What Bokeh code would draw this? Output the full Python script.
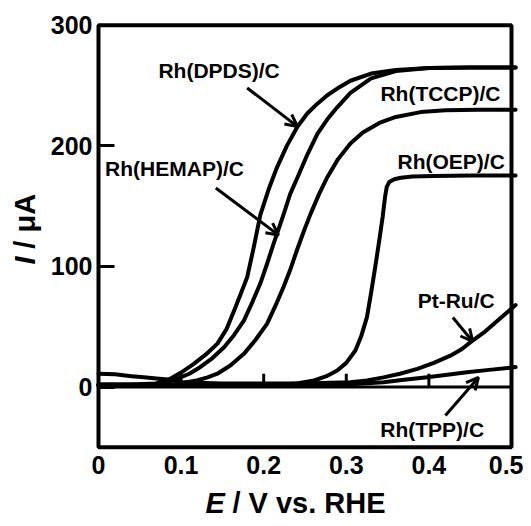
import math
from bokeh.plotting import figure
from bokeh.models import (FixedTicker, Label, Arrow, OpenHead, BoxAnnotation, LinearAxis)
from bokeh.embed import file_html
from bokeh.resources import INLINE

# ---------------- data ----------------
X_TICKS = [0, 0.1, 0.2, 0.3, 0.4, 0.5]
X_TICK_LABELS = ["0", "0.1", "0.2", "0.3", "0.4", "0.5"]
Y_TICKS = [0, 100, 200, 300]
Y_TICK_LABELS = ["0", "100", "200", "300"]
X_LIMITS = (0, 0.5)
Y_LIMITS = (-50, 300)

dpds_E = [0, 0.04, 0.07, 0.087, 0.10, 0.115, 0.13, 0.144, 0.155, 0.164, 0.172, 0.180,
          0.188, 0.196, 0.206, 0.216, 0.228, 0.241, 0.253, 0.265, 0.277, 0.289, 0.305,
          0.33, 0.36, 0.40, 0.45, 0.505]
dpds_I = [2, 2, 3, 6.8, 12, 19, 27, 36, 48, 63, 77, 91, 116, 143, 164, 182, 200, 216,
          227, 235, 242, 247.5, 254, 260, 263, 264.5, 265, 265]

hemap_E = [0, 0.05, 0.08, 0.095, 0.11, 0.123, 0.138, 0.152, 0.164, 0.176, 0.186, 0.196,
           0.204, 0.212, 0.224, 0.232, 0.241, 0.253, 0.265, 0.277, 0.289, 0.305, 0.33,
           0.36, 0.40, 0.45, 0.505]
hemap_I = [2, 2, 3, 6.8, 11, 16.4, 24, 33, 43, 55, 70, 86, 102, 119, 143, 160, 174, 193,
           210, 222, 232, 244, 256, 262, 264.5, 265, 265]

tccp_E = [0, 0.05, 0.09, 0.119, 0.132, 0.144, 0.16, 0.176, 0.19, 0.204, 0.214, 0.224,
          0.232, 0.240, 0.249, 0.257, 0.267, 0.277, 0.29, 0.305, 0.32, 0.34, 0.36, 0.39,
          0.42, 0.46, 0.505]
tccp_I = [1.5, 1.5, 2, 5.4, 8, 11, 18, 27.5, 39, 52.4, 67, 83, 97, 113, 130, 144, 160,
          174, 189, 202, 211, 219, 224, 228, 229.5, 230, 230]

oep_E = [0, 0.1, 0.2, 0.22, 0.24, 0.261, 0.276, 0.289, 0.30, 0.311, 0.318, 0.325, 0.330,
         0.335, 0.340, 0.344, 0.347, 0.349, 0.352, 0.358, 0.366, 0.38, 0.406, 0.45, 0.505]
oep_I = [1.5, 1.5, 1.5, 2, 3, 5.4, 9, 13.7, 20, 30.3, 42, 58, 78, 99.4, 122, 141, 158,
         166, 170, 172.3, 173.5, 174.5, 175, 175.5, 175.5]

ptru_E = [0, 0.02, 0.04, 0.055, 0.07, 0.087, 0.1, 0.15, 0.2, 0.25, 0.28, 0.305, 0.325,
          0.345, 0.365, 0.386, 0.406, 0.426, 0.44, 0.452, 0.468, 0.483, 0.505]
ptru_I = [11, 10.5, 9, 8, 7, 6, 4, 3, 3, 3, 3.5, 4, 5.5, 8, 11, 15, 20, 26, 31.5, 38, 46,
          55, 68]

tpp_E = [0, 0.1, 0.2, 0.28, 0.30, 0.345, 0.37, 0.398, 0.42, 0.446, 0.47, 0.505]
tpp_I = [1, 1, 1, 1.5, 2, 4, 6, 8.1, 10, 12.3, 14, 16.5]

FONT = "Liberation Sans"

# frame covers the whole canvas; the plot box is drawn at the data limits
p = figure(width=523, height=518, x_range=(-0.11864, 0.51453), y_range=(-109.06, 320.56),
           output_backend="svg", toolbar_location=None, min_border=0,
           x_axis_location=None, y_axis_location=None)
p.background_fill_color = "white"
p.border_fill_color = "white"
p.grid.visible = False
p.outline_line_color = None

# bottom axis (labels only) at y = -50
xa = LinearAxis(fixed_location=Y_LIMITS[0], ticker=FixedTicker(ticks=X_TICKS))
xa.major_label_overrides = {t: l for t, l in zip(X_TICKS, X_TICK_LABELS)}
xa.axis_line_color = None
xa.major_tick_line_color = None
xa.minor_tick_line_color = None
xa.major_tick_out = 0
xa.major_tick_in = 0
xa.major_label_standoff = 9
xa.major_label_text_font = FONT
xa.major_label_text_font_style = "bold"
xa.major_label_text_font_size = "25px"
xa.major_label_text_color = "black"
p.add_layout(xa, "below")

# left axis at x = 0 with inward ticks
ya = LinearAxis(fixed_location=X_LIMITS[0], ticker=FixedTicker(ticks=Y_TICKS))
ya.major_label_overrides = {t: l for t, l in zip(Y_TICKS, Y_TICK_LABELS)}
ya.axis_line_color = None
ya.major_tick_line_color = "black"
ya.major_tick_line_width = 3
ya.major_tick_in = 16
ya.major_tick_out = 0
ya.minor_tick_line_color = None
ya.major_label_standoff = 6
ya.major_label_text_font = FONT
ya.major_label_text_font_style = "bold"
ya.major_label_text_font_size = "25px"
ya.major_label_text_color = "black"
p.add_layout(ya, "left")

# plot box
p.add_layout(BoxAnnotation(left=X_LIMITS[0], right=X_LIMITS[1], bottom=Y_LIMITS[0],
                           top=Y_LIMITS[1], fill_alpha=0, line_color="black",
                           line_width=4, line_alpha=1))

# zero line with upward ticks
p.segment(x0=[X_LIMITS[0]], y0=[0], x1=[X_LIMITS[1]], y1=[0],
          line_color="black", line_width=3)
inner = X_TICKS[1:-1]
p.segment(x0=inner, y0=[0] * len(inner), x1=inner, y1=[11] * len(inner),
          line_color="black", line_width=3)

for xs, ys in [(dpds_E, dpds_I), (hemap_E, hemap_I), (tccp_E, tccp_I),
               (oep_E, oep_I), (ptru_E, ptru_I), (tpp_E, tpp_I)]:
    p.line(xs, ys, line_color="black", line_width=4, line_join="round", line_cap="round")

# curve labels
labels = [
    ("Rh(DPDS)/C", 0.146, 262.6),
    ("Rh(TCCP)/C", 0.414, 243.6),
    ("Rh(HEMAP)/C", 0.092, 181.3),
    ("Rh(OEP)/C", 0.427, 187.1),
    ("Pt-Ru/C", 0.433, 71.8),
    ("Rh(TPP)/C", 0.404, -35.3),
]
for t, x, y in labels:
    p.add_layout(Label(x=x, y=y, text=t, text_align="center", text_baseline="middle",
                       text_font=FONT, text_font_style="bold", text_font_size="21px",
                       text_color="black"))

arrows = [
    (0.180, 248, 0.241, 216),
    (0.142, 165, 0.218, 126),
    (0.429, 57.7, 0.453, 37.8),
    (0.420, -23.7, 0.460, 7.9),
]
for x0, y0, x1, y1 in arrows:
    p.add_layout(Arrow(end=OpenHead(size=12, line_width=3, line_color="black"),
                       x_start=x0, y_start=y0, x_end=x1, y_end=y1,
                       line_width=3, line_color="black"))

# axis titles with mixed italic/bold
TY = -96.5
p.add_layout(Label(x=0.1295, y=TY, text="E", text_align="left", text_baseline="alphabetic",
                   text_font=FONT, text_font_style="bold italic", text_font_size="29px",
                   text_color="black"))
p.add_layout(Label(x=0.1622, y=TY, text="/ V vs. RHE", text_align="left",
                   text_baseline="alphabetic", text_font=FONT, text_font_style="bold",
                   text_font_size="29px", text_color="black"))
TX = -0.0885
p.add_layout(Label(x=TX, y=101.5, text="I", angle=math.pi / 2, text_align="left",
                   text_baseline="alphabetic", text_font=FONT, text_font_style="bold italic",
                   text_font_size="29px", text_color="black"))
p.add_layout(Label(x=TX, y=114.7, text="/ μA", angle=math.pi / 2, text_align="left",
                   text_baseline="alphabetic", text_font=FONT, text_font_style="bold",
                   text_font_size="29px", text_color="black"))

open("out.html", "w").write(file_html(p, INLINE))
